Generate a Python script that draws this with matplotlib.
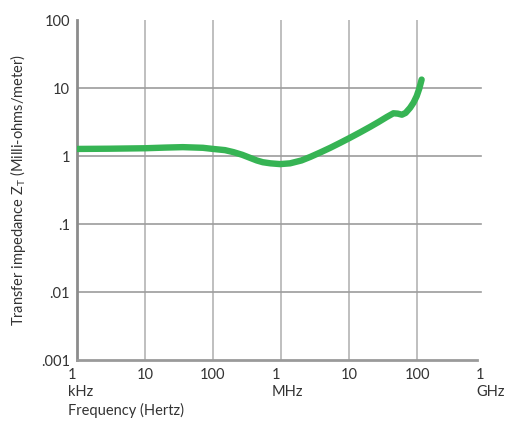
import matplotlib.pyplot as plt
import matplotlib.transforms as mtransforms

# curve (Hz, milli-ohms/meter)
freq_hz = [1e3, 3e3, 1e4, 2e4, 3.6e4, 7.1e4, 1e5, 1.5e5, 2e5, 2.7e5, 3.5e5, 4.4e5,
           5.4e5, 7e5, 9.7e5, 1.36e6, 2e6, 2.7e6, 3.8e6, 5.3e6, 7.5e6, 1.03e7,
           1.45e7, 2.04e7, 2.7e7, 3.6e7, 4.5e7, 5.2e7, 6e7, 6.8e7, 7.9e7,
           8.9e7, 9.9e7, 1.08e8, 1.17e8]
impedance = [1.27, 1.28, 1.3, 1.33, 1.35, 1.32, 1.27, 1.22, 1.14, 1.04, 0.94, 0.86,
             0.81, 0.78, 0.76, 0.78, 0.86, 0.97, 1.13, 1.32, 1.57, 1.85,
             2.22, 2.68, 3.15, 3.75, 4.25, 4.2, 4.05, 4.3, 5.1,
             6.1, 7.6, 9.8, 13.3]

x_ticks = [1e3, 1e4, 1e5, 1e6, 1e7, 1e8, 1e9]
x_labels = ['1\nkHz', '10', '100', '1\nMHz', '10', '100', '1\nGHz']
y_ticks = [1e-3, 1e-2, 1e-1, 1, 10, 100]
y_labels = ['.001', '.01', '.1', '1', '10', '100']

plt.rcParams['font.family'] = ['Lato', 'DejaVu Sans']
text_color = '#333333'

fig = plt.figure(figsize=(5.05, 4.22), dpi=100)
ax = fig.add_axes([77 / 505, 62 / 422, 408 / 505, 340 / 422])

ax.plot(freq_hz, impedance, color='#36b454', linewidth=4.6,
        solid_capstyle='round', solid_joinstyle='round', zorder=3)

ax.set_xscale('log')
ax.set_yscale('log')
ax.set_xlim(1e3, 1e9)
ax.set_ylim(1e-3, 100)

# grid lines, drawn by hand so the top row and right column stay empty
for f in x_ticks[1:-1]:
    ax.axvline(f, color='#b4b4b4', linewidth=1.2, zorder=1)
for z in y_ticks[1:-1]:
    ax.axhline(z, xmax=0.99, color='#9c9c9c', linewidth=1.2, zorder=1)

ax.set_xticks(x_ticks)
ax.set_xticklabels(x_labels)
ax.set_yticks(y_ticks)
ax.set_yticklabels(y_labels)
ax.minorticks_off()
ax.tick_params(length=0, labelsize=10.5, labelcolor=text_color)
ax.tick_params(axis='x', pad=6)
ax.tick_params(axis='y', pad=5)

shift = mtransforms.ScaledTranslation(-9 / 100, 0, fig.dpi_scale_trans)
for lbl in ax.get_xticklabels():
    if '\n' in lbl.get_text():
        lbl.set_ha('left')
        lbl.set_multialignment('left')
        lbl.set_transform(lbl.get_transform() + shift)

for side in ['top', 'right']:
    ax.spines[side].set_visible(False)
ax.spines['left'].set_color('#8c8c8c')
ax.spines['left'].set_linewidth(2)
ax.spines['bottom'].set_color('#9a9a9a')
ax.spines['bottom'].set_linewidth(2)
ax.spines['bottom'].set_bounds(1e3, 7.5e8)

fig.text(68 / 505, 1 - 410 / 422, 'Frequency (Hertz)', fontsize=10.5,
         color=text_color, ha='left', va='center')
fig.text(18 / 505, 1 - 190 / 422,
         'Transfer impedance Z$_\\mathregular{T}$ (Milli-ohms/meter)',
         fontsize=10.5, color=text_color, rotation=90, ha='center', va='center')

fig.savefig('out.png', dpi=100)
